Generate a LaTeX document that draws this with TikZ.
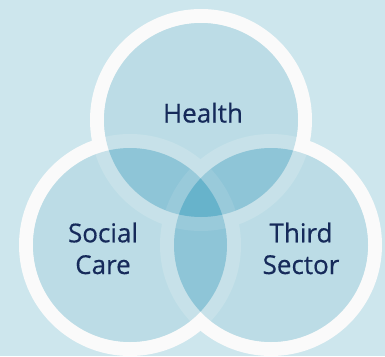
\documentclass[tikz,border=0pt]{standalone}
\usepackage{fontspec}
\setmainfont{Open Sans}
\newfontfamily\lblfont{Open Sans}[FakeBold=0.5]
\definecolor{bg}{RGB}{205,230,237}
\definecolor{ringc}{RGB}{250,250,250}
\definecolor{fillA}{RGB}{183,218,228}
\definecolor{fillB}{RGB}{123,187,209}
\definecolor{fillC}{RGB}{72,163,193}
\definecolor{ink}{RGB}{22,42,90}
\begin{document}
\begin{tikzpicture}[x=1pt,y=-1pt,
  ring/.style={draw=ringc, line width=14pt},
  lbl/.style={font=\lblfont\fontsize{26}{32}\selectfont, text=ink, anchor=base, inner sep=0pt}]
\fill[bg] (0,0) rectangle (385,356);
\useasboundingbox (0,0) rectangle (385,356);
\coordinate (H) at (201,120);
\coordinate (S) at (130,245);
\coordinate (T) at (271,245);
\foreach \c in {H,S,T} \draw[ring] (\c) circle[radius=104];
\begin{scope}[transparency group, opacity=0.76]
  \foreach \c in {H,S,T} \fill[fillA] (\c) circle[radius=97];
  \begin{scope}
    \clip (H) circle[radius=97];
    \fill[fillB] (S) circle[radius=97];
    \fill[fillB] (T) circle[radius=97];
  \end{scope}
  \begin{scope}
    \clip (S) circle[radius=97];
    \fill[fillB] (T) circle[radius=97];
  \end{scope}
  \begin{scope}
    \clip (H) circle[radius=97];
    \clip (S) circle[radius=97];
    \fill[fillC] (T) circle[radius=97];
  \end{scope}
\end{scope}
\node[lbl] (health) at (203,122.5) {Health};
\node[lbl] (social) at (103,242.3) {Social};
\node[lbl] (care) at (103,274) {Care};
\node[lbl] (third) at (301,242.3) {Third};
\node[lbl] (sector) at (301,274) {Sector};
\end{tikzpicture}
\end{document}
